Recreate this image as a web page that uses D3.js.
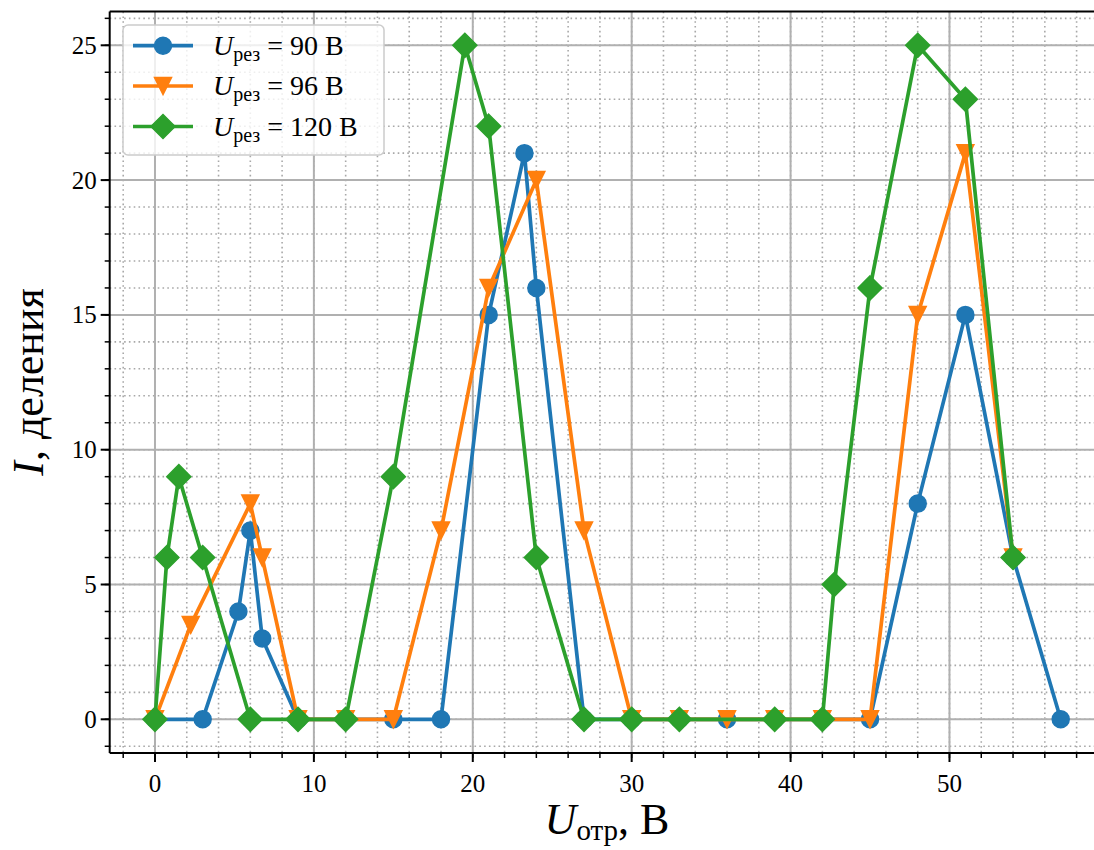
<!DOCTYPE html>
<html>
<head>
<meta charset="utf-8">
<script src="https://cdn.jsdelivr.net/npm/d3@7"></script>
<style>
html,body{margin:0;padding:0;background:#fff;}
svg{display:block;}
text{font-family:"Liberation Serif","DejaVu Serif",serif;fill:#000;white-space:pre;}
</style>
</head>
<body>
<svg id="chart" width="1094" height="850"></svg>
<script>
// ---- data ----
const blueX = [0,3,5.25,6,6.75,9,12,15,18,21,23.25,24,27,30,33,36,39,42,45,48,51,54,57];
const blueY = [0,0,4,7,3,0,0,0,0,15,21,16,0,0,0,0,0,0,0,8,15,6,0];
const orangeX = [0,2.25,6,6.75,9,12,15,18,21,24,27,30,33,36,39,42,45,48,51,54];
const orangeY = [0,3.5,8,6,0,0,0,7,16,20,7,0,0,0,0,0,0,15,21,6];
const greenX = [0,0.75,1.5,3,6,9,12,15,19.5,21,24,27,30,33,39,42,42.75,45,48,51,54];
const greenY = [0,6,9,6,0,0,0,9,25,22,6,0,0,0,0,0,5,16,25,23,6];
const seriesLabels = ["90 В","96 В","120 В"];
const xTicks = [0,10,20,30,40,50];
const yTicks = [0,5,10,15,20,25];

const svg = d3.select("#chart");
const L=109.7, R=1106, T=11.6, B=753;
const x = d3.scaleLinear().domain([-2.85,59.85]).range([L,R]);
const y = d3.scaleLinear().domain([-1.25,26.25]).range([B,T]);

const gridG = svg.append("g");
const xMinor = d3.range(-2,60,2);
const yMinor = d3.range(-1,27,1);
gridG.selectAll(".gxm").data(xMinor).enter().append("line")
  .attr("x1",d=>x(d)).attr("x2",d=>x(d)).attr("y1",T).attr("y2",B)
  .attr("stroke","#a8a8a8").attr("stroke-width",1.6).attr("stroke-dasharray","1.6,3.2");
gridG.selectAll(".gym").data(yMinor).enter().append("line")
  .attr("y1",d=>y(d)).attr("y2",d=>y(d)).attr("x1",L).attr("x2",R)
  .attr("stroke","#a8a8a8").attr("stroke-width",1.6).attr("stroke-dasharray","1.6,3.2");
gridG.selectAll(".gx").data(xTicks).enter().append("line")
  .attr("x1",d=>x(d)).attr("x2",d=>x(d)).attr("y1",T).attr("y2",B)
  .attr("stroke","#b0b0b0").attr("stroke-width",2);
gridG.selectAll(".gy").data(yTicks).enter().append("line")
  .attr("y1",d=>y(d)).attr("y2",d=>y(d)).attr("x1",L).attr("x2",R)
  .attr("stroke","#b0b0b0").attr("stroke-width",2);

// series
const ms = 17;
const symbols = {
  circle: (g)=>g.append("circle").attr("r",ms/2),
  tri: (g)=>g.append("path").attr("d",`M0,${ms/2}L${-ms/2},${-ms/2}L${ms/2},${-ms/2}Z`),
  diamond: (g)=>{const h=ms*Math.SQRT2/2; return g.append("path").attr("d",`M0,${-h}L${h},0L0,${h}L${-h},0Z`);}
};
const series = [
  {xs:blueX, ys:blueY, color:"#1f77b4", sym:"circle"},
  {xs:orangeX, ys:orangeY, color:"#ff7f0e", sym:"tri"},
  {xs:greenX, ys:greenY, color:"#2ca02c", sym:"diamond"}
];
const line = d3.line().x(d=>x(d[0])).y(d=>y(d[1]));
series.forEach(s=>{
  const pts = s.xs.map((v,i)=>[v,s.ys[i]]);
  const g = svg.append("g");
  g.append("path").attr("d",line(pts)).attr("fill","none").attr("stroke",s.color)
    .attr("stroke-width",3.7).attr("stroke-linejoin","round").attr("stroke-linecap","square");
  pts.forEach(p=>{
    const mg = g.append("g").attr("transform",`translate(${x(p[0])},${y(p[1])})`);
    symbols[s.sym](mg).attr("fill",s.color).attr("stroke",s.color).attr("stroke-width",1.5).attr("stroke-linejoin","miter");
  });
});

// spines
svg.append("line").attr("x1",L).attr("x2",L).attr("y1",T).attr("y2",B).attr("stroke","#000").attr("stroke-width",2);
svg.append("line").attr("x1",L).attr("x2",R).attr("y1",B).attr("y2",B).attr("stroke","#000").attr("stroke-width",2);
svg.append("line").attr("x1",L).attr("x2",R).attr("y1",T).attr("y2",T).attr("stroke","#000").attr("stroke-width",2);
svg.append("line").attr("x1",R).attr("x2",R).attr("y1",T).attr("y2",B).attr("stroke","#000").attr("stroke-width",2);

// ticks
const tg = svg.append("g");
tg.selectAll(".xmt").data(xMinor).enter().append("line")
  .attr("x1",d=>x(d)).attr("x2",d=>x(d)).attr("y1",B).attr("y2",B+5).attr("stroke","#000").attr("stroke-width",1.5);
tg.selectAll(".xt").data(xTicks).enter().append("line")
  .attr("x1",d=>x(d)).attr("x2",d=>x(d)).attr("y1",B).attr("y2",B+9).attr("stroke","#000").attr("stroke-width",2);
tg.selectAll(".ymt").data(yMinor).enter().append("line")
  .attr("y1",d=>y(d)).attr("y2",d=>y(d)).attr("x1",L).attr("x2",L-5).attr("stroke","#000").attr("stroke-width",1.5);
tg.selectAll(".yt").data(yTicks).enter().append("line")
  .attr("y1",d=>y(d)).attr("y2",d=>y(d)).attr("x1",L).attr("x2",L-9).attr("stroke","#000").attr("stroke-width",2);
tg.selectAll(".xl").data(xTicks).enter().append("text")
  .attr("x",d=>x(d)).attr("y",792).attr("text-anchor","middle").attr("font-size",25).text(d=>d);
tg.selectAll(".yl").data(yTicks).enter().append("text")
  .attr("x",L-13).attr("y",d=>y(d)+8.5).attr("text-anchor","end").attr("font-size",25).text(d=>d);

// axis labels
const xl = svg.append("text").attr("x",607).attr("y",834).attr("text-anchor","middle").attr("font-size",44);
xl.append("tspan").attr("font-style","italic").text("U");
xl.append("tspan").attr("font-size",29).attr("dy",6).text("отр");
xl.append("tspan").attr("dy",-6).text(", В");
const yl = svg.append("text").attr("transform",`translate(43,382) rotate(-90)`).attr("text-anchor","middle").attr("font-size",44);
yl.append("tspan").attr("font-style","italic").text("I");
yl.append("tspan").text(", деления");

// legend
const lg = svg.append("g");
lg.append("rect").attr("x",123).attr("y",25).attr("width",261).attr("height",130).attr("rx",5)
  .attr("fill","#fff").attr("fill-opacity",0.8).attr("stroke","#cccccc").attr("stroke-width",1.5);
const rowsY = [45.7,86,126.5];
series.forEach((s,i)=>{
  const yy = rowsY[i];
  lg.append("line").attr("x1",133).attr("x2",193).attr("y1",yy).attr("y2",yy).attr("stroke",s.color).attr("stroke-width",3.7);
  const mg = lg.append("g").attr("transform",`translate(163,${yy})`);
  symbols[s.sym](mg).attr("fill",s.color).attr("stroke",s.color).attr("stroke-width",1.5);
  const t = lg.append("text").attr("x",213).attr("y",yy+9).attr("font-size",28);
  t.append("tspan").attr("font-style","italic").text("U");
  t.append("tspan").attr("font-size",20).attr("dy",6).text("рез");
  t.append("tspan").attr("dy",-6).text(" = " + seriesLabels[i]);
});
</script>
</body>
</html>
